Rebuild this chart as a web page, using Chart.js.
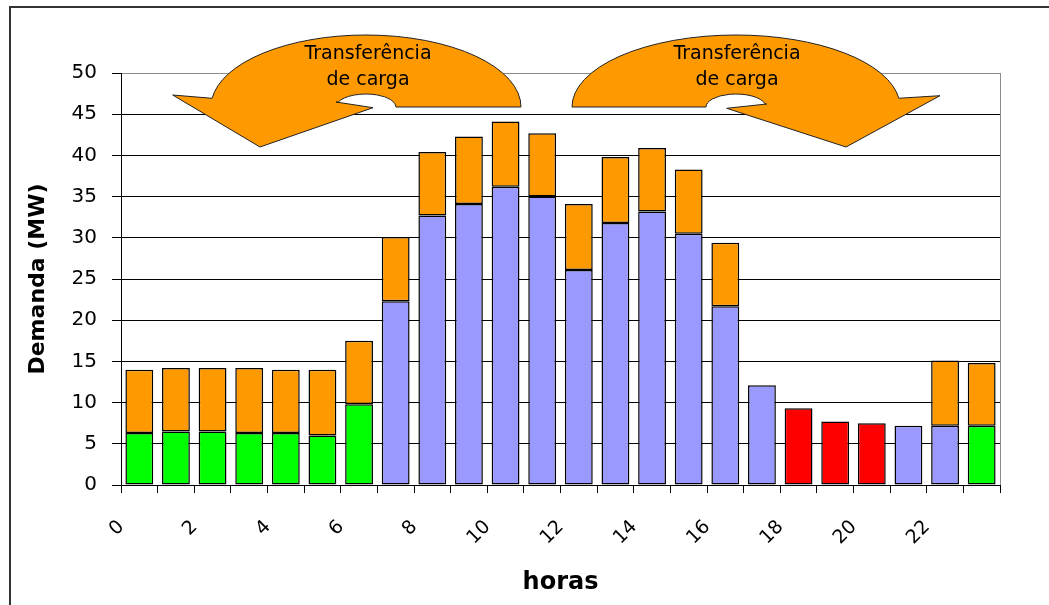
<!DOCTYPE html>
<html>
<head>
<meta charset="utf-8">
<script src="https://cdn.jsdelivr.net/npm/chart.js@4/dist/chart.umd.min.js"></script>
<style>
  html, body { margin: 0; padding: 0; background: #fff; overflow: hidden; }
  #wrap { width: 1049px; height: 605px; }
</style>
</head>
<body>
<div id="wrap"><canvas id="c" width="1049" height="605"></canvas></div>
<script>
// Hourly demand (MW): base load per hour, load moved by the transfer, and tariff period
const hours = ['0','1','2','3','4','5','6','7','8','9','10','11','12','13','14','15','16','17','18','19','20','21','22','23'];
const tariffPeriod = ['leve','leve','leve','leve','leve','leve','leve',
  'media','media','media','media','media','media','media','media','media','media','media',
  'ponta','ponta','ponta','media','media','leve'];
const baseDemand = [6.3, 6.5, 6.5, 6.3, 6.3, 6.0, 9.8, 22.3, 32.7, 34.1, 36.2, 35.0,
  26.1, 31.8, 33.2, 30.5, 21.7, 12.1, 9.3, 7.7, 7.5, 7.2, 7.2, 7.2];
const transferredLoad = [7.7, 7.7, 7.7, 7.9, 7.7, 8.0, 7.7, 7.8, 7.7, 8.2, 7.9, 7.7,
  8.0, 8.0, 7.7, 7.8, 7.7, null, null, null, null, null, 7.9, 7.6];
const yTickValues = [0, 5, 10, 15, 20, 25, 30, 35, 40, 45, 50];
const arrowCaption = ['Transferência', 'de carga'];

const periodColors = { leve: '#00FF00', media: '#9999FF', ponta: '#FF0000' };
const transferColor = '#FF9900';

const FONT = 'DejaVu Sans';
Chart.defaults.font.family = FONT;
Chart.defaults.color = '#000';

function baseFor(period) {
  return baseDemand.map((v, i) => tariffPeriod[i] === period ? v : null);
}

const barStyle = { borderColor: '#000', borderWidth: 1.5, borderSkipped: false,
  barPercentage: 0.76, categoryPercentage: 1.0 };

const datasets = ['leve', 'media', 'ponta'].map(p => Object.assign({
  label: p, data: baseFor(p), backgroundColor: periodColors[p]
}, barStyle));
datasets.push(Object.assign({
  label: 'transferência', data: transferredLoad, backgroundColor: transferColor
}, barStyle));

// Frame, plot border and the two curved "load transfer" arrows
const decorations = {
  id: 'decorations',
  beforeDraw(chart) {
    const ctx = chart.ctx;
    ctx.save();
    ctx.strokeStyle = '#333';
    ctx.lineWidth = 2;
    ctx.strokeRect(10, 7, 3000, 3000);
    ctx.restore();
  },
  afterDraw(chart) {
    const ctx = chart.ctx;
    const a = chart.chartArea;
    ctx.save();
    // right edge of the plot area
    ctx.strokeStyle = '#8c8c8c';
    ctx.lineWidth = 1;
    ctx.beginPath();
    ctx.moveTo(Math.round(a.right) + 0.5, a.top);
    ctx.lineTo(Math.round(a.right) + 0.5, a.bottom);
    ctx.stroke();

    const cy = a.top + 34;
    drawArrow(ctx, a.left + 245, cy, 1, {
      ro: 155, ryo: 72, ri: 30, ryi: 13,
      outerEnd: [-154.3, -8.7], barbOut: [-193.3, -12], tip: [-106, 40],
      barbIn: [7, 0.7], innerEnd: [-30, -5]
    });
    drawArrow(ctx, a.left + 615, cy, -1, {
      ro: 164, ryo: 72, ri: 30, ryi: 13,
      outerEnd: [-162, -8.7], barbOut: [-204, -11.3], tip: [-110, 40],
      barbIn: [9.3, 1.3], innerEnd: [-30.7, -3]
    });
    ctx.fillStyle = '#000';
    ctx.font = '19px "' + FONT + '"';
    ctx.textAlign = 'center';
    ctx.textBaseline = 'alphabetic';
    [a.left + 247, a.left + 616].forEach(x => {
      ctx.fillText(arrowCaption[0], x, cy - 48);
      ctx.fillText(arrowCaption[1], x, cy - 22);
    });
    ctx.restore();
  }
};

function drawArrow(ctx, cx, cy, dir, s) {
  const tOuter = Math.atan2(s.outerEnd[1] / s.ryo, s.outerEnd[0] / s.ro);
  const tInner = Math.atan2(s.innerEnd[1] / s.ryi, s.innerEnd[0] / s.ri);
  ctx.save();
  ctx.translate(cx, cy);
  ctx.scale(dir, 1);
  ctx.beginPath();
  ctx.moveTo(s.ro, 0);
  ctx.ellipse(0, 0, s.ro, s.ryo, 0, 0, tOuter, true);
  ctx.lineTo(s.barbOut[0], s.barbOut[1]);
  ctx.lineTo(s.tip[0], s.tip[1]);
  ctx.lineTo(s.barbIn[0], s.barbIn[1]);
  ctx.lineTo(s.innerEnd[0], s.innerEnd[1]);
  ctx.ellipse(0, 0, s.ri, s.ryi, 0, tInner, 0, false);
  ctx.closePath();
  ctx.restore();
  ctx.fillStyle = transferColor;
  ctx.fill();
  ctx.strokeStyle = '#222';
  ctx.lineWidth = 1;
  ctx.stroke();
}

new Chart(document.getElementById('c'), {
  type: 'bar',
  data: { labels: hours, datasets },
  plugins: [decorations],
  options: {
    responsive: false,
    animation: false,
    devicePixelRatio: 1,
    layout: { padding: { left: 0, top: 73, right: 49, bottom: 0 } },
    plugins: { legend: { display: false }, tooltip: { enabled: false } },
    scales: {
      x: {
        stacked: true,
        offset: true,
        grid: { display: true, drawOnChartArea: false, offset: true,
                color: '#000', tickColor: '#000', tickLength: 8 },
        border: { display: true, color: '#000', width: 1 },
        ticks: {
          autoSkip: false, maxRotation: 45, minRotation: 45,
          padding: 23, labelOffset: -18,
          font: { size: 19 },
          callback(v, i) { return i % 2 === 0 ? hours[i] : ''; }
        },
        title: { display: true, text: 'horas', font: { size: 24, weight: 'bold' },
                 padding: { top: 0, bottom: 8 } },
        afterFit(s) { s.height = 120; }
      },
      y: {
        stacked: true,
        min: 0, max: 50,
        afterBuildTicks(s) { s.ticks = yTickValues.map(v => ({ value: v })); },
        grid: {
          color: c => (c.tick && c.tick.value === 50) ? '#8c8c8c' : '#000',
          tickColor: '#000', tickLength: 9, lineWidth: 1
        },
        border: { display: true, color: '#000', width: 1 },
        ticks: { padding: 15, font: { size: 20 } },
        title: { display: true, text: 'Demanda (MW)', font: { size: 22, weight: 'bold' },
                 padding: { top: 25, bottom: 0 } },
        afterFit(s) { s.width = 121; }
      }
    }
  }
});
</script>
</body>
</html>
